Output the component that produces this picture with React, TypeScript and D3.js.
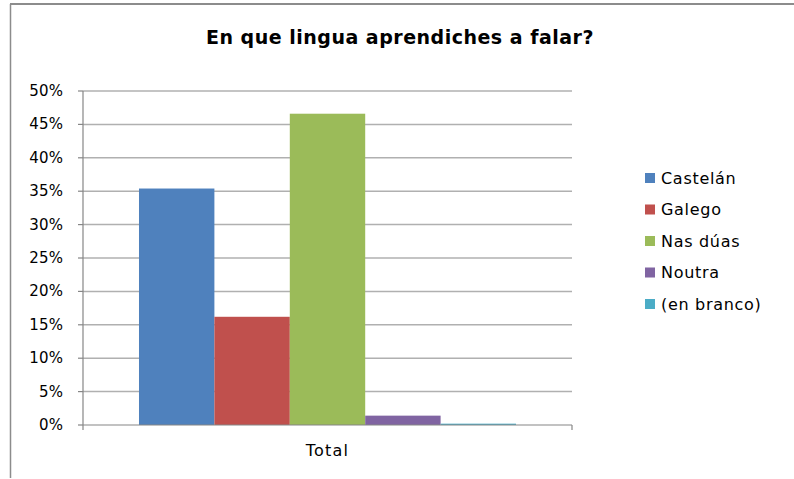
import React from "react";
import * as d3 from "d3";

const categories = ["Total"];
const seriesNames = ["Castelán", "Galego", "Nas dúas", "Noutra", "(en branco)"];
const seriesValues = [0.354, 0.162, 0.466, 0.014, 0.002];
const seriesColors = ["#4F81BD", "#C0504D", "#9BBB59", "#8064A2", "#4BACC6"];
const yTicks = [0, 0.05, 0.1, 0.15, 0.2, 0.25, 0.3, 0.35, 0.4, 0.45, 0.5];
const title = "En que lingua aprendiches a falar?";

const W = 794;
const H = 479;
const left = 83;
const right = 572;
const top = 91;
const bottom = 425;
const font = "'DejaVu Sans', 'Open Sans', sans-serif";

export default function App() {
  const y = d3.scaleLinear().domain([0, 0.5]).range([bottom, top]);
  const x0 = d3.scaleBand<string>().domain(categories).range([left, right]).paddingInner(0).paddingOuter(0.1485);
  const x1 = d3.scaleBand<string>().domain(seriesNames).range([0, x0.bandwidth()]).padding(0);
  const fmt = d3.format(".0%");

  return (
    <svg width={W} height={H} style={{ position: "absolute", left: 0, top: 0, background: "#fff" }}>
      <rect x={0} y={0} width={W} height={H} fill="#fff" />
      {/* chart frame */}
      <line x1={10.5} y1={4} x2={10.5} y2={478} stroke="#8c8c8c" strokeWidth={1.5} />
      <line x1={10} y1={4} x2={W} y2={4} stroke="#8c8c8c" strokeWidth={2} />
      <text x={400} y={44} textAnchor="middle" fontFamily={font} fontWeight="bold" fontSize={19} letterSpacing={0.5} fill="#000">
        {title}
      </text>
      {/* gridlines */}
      {yTicks.slice(1).map((t) => (
        <line key={t} x1={left} x2={right} y1={y(t)} y2={y(t)} stroke="#b0b0b0" strokeWidth={1.5} />
      ))}
      {/* bars */}
      {categories.map((c) =>
        seriesNames.map((s, i) => {
          const v = seriesValues[i];
          return (
            <rect
              key={c + s}
              x={(x0(c) ?? 0) + (x1(s) ?? 0)}
              y={y(v)}
              width={x1.bandwidth()}
              height={bottom - y(v)}
              fill={seriesColors[i]}
            />
          );
        })
      )}
      {/* y axis */}
      <line x1={left} x2={left} y1={top} y2={bottom + 5} stroke="#868686" strokeWidth={1.2} />
      {yTicks.map((t) => (
        <g key={t}>
          <line x1={left - 5} x2={left} y1={y(t)} y2={y(t)} stroke="#868686" strokeWidth={1.2} />
          <text x={63} y={y(t) + 5} textAnchor="end" fontFamily={font} fontSize={15} letterSpacing={0.1} fill="#000">
            {fmt(t)}
          </text>
        </g>
      ))}
      {/* x axis */}
      <line x1={left} x2={right} y1={bottom} y2={bottom} stroke="#868686" strokeWidth={1.2} />
      <line x1={right} x2={right} y1={bottom} y2={bottom + 5} stroke="#868686" strokeWidth={1.2} />
      {categories.map((c) => (
        <text key={c} x={(x0(c) ?? 0) + x0.bandwidth() / 2} y={456} textAnchor="middle" fontFamily={font} fontSize={16} letterSpacing={1.2} fill="#000">
          {c}
        </text>
      ))}
      {/* legend */}
      {seriesNames.map((s, i) => {
        const cy = 178 + i * 31.5;
        return (
          <g key={s}>
            <rect x={645} y={cy - 5} width={10} height={10} fill={seriesColors[i]} />
            <text x={661} y={cy + 5.5} fontFamily={font} fontSize={16} letterSpacing={0.7} fill="#000">
              {s}
            </text>
          </g>
        );
      })}
    </svg>
  );
}
